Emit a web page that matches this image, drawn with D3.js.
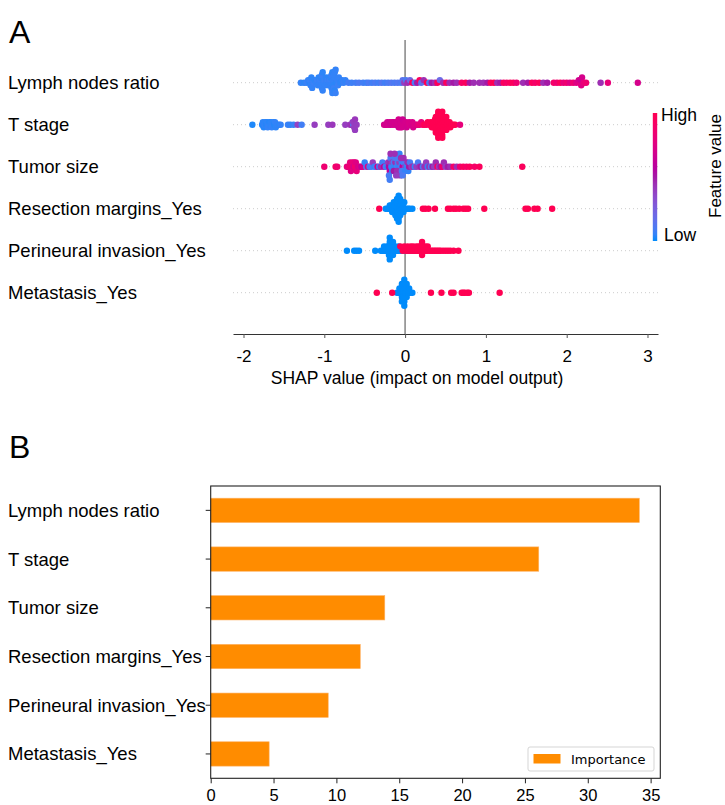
<!DOCTYPE html>
<html>
<head>
<meta charset="utf-8">
<script src="https://cdn.jsdelivr.net/npm/d3@7"></script>
<style>
  body { margin: 0; background: #fff; }
  svg { display: block; font-family: "Liberation Sans", Arial, sans-serif; }
</style>
</head>
<body>
<div id="container"></div>
<script>
// feature names, top to bottom
const features = ["Lymph nodes ratio", "T stage", "Tumor size", "Resection margins_Yes",
  "Perineural invasion_Yes", "Metastasis_Yes"];

// panel B importances
const importance = [34.1, 26.1, 13.85, 11.9, 9.35, 4.65];

const shapTicks = [-2, -1, 0, 1, 2, 3];
const importanceTicks = [0, 5, 10, 15, 20, 25, 30, 35];

// SHAP points per feature: [shap value, feature value (0 low .. 1 high)]
const lnrPts = [
  [-1.29,0.05],[-1.25,0.04],[-1.22,0.06],[-1.2,0.05],[-1.18,0.03],[-1.18,0.06],[-1.17,0.05],[-1.16,0.04],
  [-1.15,0.05],[-1.13,0.06],[-1.12,0.04],[-1.1,0.05],[-1.09,0.06],[-1.08,0.05],[-1.07,0.04],[-1.06,0.05],
  [-1.05,0.06],[-1.04,0.05],[-1.04,0.04],[-1.03,0.05],[-1.03,0.06],[-1.02,0.05],[-1.02,0.04],[-1.01,0.05],
  [-1.0,0.06],[-0.99,0.05],[-0.98,0.04],[-0.97,0.05],[-0.96,0.06],[-0.95,0.05],[-0.94,0.04],[-0.93,0.05],
  [-0.93,0.06],[-0.92,0.05],[-0.92,0.04],[-0.91,0.05],[-0.91,0.06],[-0.9,0.05],[-0.9,0.04],[-0.9,0.05],
  [-0.89,0.06],[-0.89,0.05],[-0.89,0.04],[-0.88,0.05],[-0.88,0.06],[-0.88,0.05],[-0.87,0.04],[-0.87,0.05],
  [-0.86,0.06],[-0.86,0.05],[-0.85,0.04],[-0.84,0.05],[-0.83,0.06],[-0.82,0.05],[-0.8,0.04],[-0.78,0.05],
  [-0.76,0.06],[-0.74,0.05],
  [-0.7,0.08],[-0.66,0.07],[-0.61,0.08],[-0.57,0.1],[-0.52,0.08],[-0.48,0.07],[-0.45,0.1],[-0.41,0.08],
  [-0.37,0.1],[-0.33,0.08],[-0.29,0.12],[-0.25,0.08],[-0.21,0.1],[-0.17,0.12],[-0.13,0.1],[-0.09,0.12],
  [-0.05,0.1],[-0.03,0.15],
  [-0.01,0.4],[0.01,0.1],[0.03,0.45],[0.06,0.2],[0.09,0.95],[0.12,0.1],[0.15,0.5],[0.18,0.95],[0.2,0.15],
  [0.23,0.45],[0.27,1.0],[0.3,0.1],[0.33,0.5],[0.37,0.45],[0.4,0.95],[0.43,0.2],[0.47,0.45],[0.51,0.95],
  [0.55,0.45],[0.6,0.5],[0.64,0.45],[0.7,0.9],[0.75,0.95],[0.8,0.5],[0.85,0.45],[0.92,0.45],[0.97,0.45],
  [1.02,0.5],[1.06,0.95],[1.1,1.0],[1.14,0.45],[1.18,0.5],[1.22,0.95],[1.26,0.9],[1.3,0.95],[1.34,0.95],
  [1.38,0.85],[1.46,0.45],[1.52,0.5],[1.57,0.95],[1.61,0.9],[1.66,0.95],[1.71,0.45],[1.76,0.5],[1.84,0.9],
  [1.88,0.85],[1.92,0.95],[1.96,0.8],[2.0,0.85],[2.04,0.75],[2.08,0.85],[2.12,0.75],[2.15,0.7],[2.17,0.8],
  [2.17,0.65],[2.18,0.75],[2.19,0.7],[2.21,0.8],[2.24,0.85],[2.42,0.45],[2.51,0.8],[2.88,0.7]
];

const tstagePts = [
  [-1.89,0.02],[-1.77,0.03],[-1.76,0.04],[-1.75,0.03],[-1.74,0.05],[-1.73,0.04],[-1.72,0.03],[-1.71,0.04],
  [-1.7,0.05],[-1.69,0.05],[-1.68,0.03],[-1.67,0.04],[-1.66,0.04],[-1.65,0.05],[-1.64,0.05],[-1.63,0.04],
  [-1.62,0.03],[-1.61,0.05],[-1.6,0.04],[-1.58,0.05],[-1.56,0.04],[-1.54,0.05],[-1.45,0.06],[-1.42,0.05],
  [-1.38,0.06],[-1.33,0.38],[-1.28,0.08],[-1.12,0.4],[-0.95,0.4],[-0.9,0.42],[-0.74,0.4],[-0.68,0.42],
  [-0.66,0.45],[-0.65,0.38],[-0.64,0.12],[-0.64,0.4],[-0.63,0.4],[-0.62,0.42],[-0.62,0.4],[-0.6,0.4],
  [-0.26,0.68],[-0.24,0.7],[-0.23,0.68],[-0.22,0.68],[-0.2,0.7],[-0.19,0.66],[-0.18,0.66],[-0.16,0.7],
  [-0.15,0.68],[-0.14,0.68],[-0.12,0.7],[-0.11,0.68],[-0.1,0.68],[-0.09,0.7],[-0.08,0.66],[-0.08,0.7],
  [-0.07,0.7],[-0.06,0.68],[-0.06,0.7],[-0.05,0.68],[-0.05,0.7],[-0.04,0.7],[-0.03,0.66],[-0.02,0.7],
  [-0.01,0.68],[0.0,0.7],[0.01,0.7],[0.02,0.68],[0.04,0.7],[0.05,0.72],[0.06,0.72],[0.08,0.7],
  [0.09,0.72],[0.1,0.7],[0.12,0.75],[0.14,0.72],[0.16,0.78],[0.18,0.82],[0.2,0.8],
  [0.22,0.9],[0.24,1],[0.26,0.95],[0.28,1],[0.3,1],[0.31,0.95],[0.32,1],[0.33,1],[0.34,1],[0.35,1],
  [0.35,1],[0.36,1],[0.36,1],[0.37,1],[0.37,1],[0.38,1],[0.38,1],[0.38,1],[0.39,1],[0.39,1],[0.39,1],
  [0.4,1],[0.4,1],[0.4,1],[0.4,1],[0.41,1],[0.41,1],[0.41,1],[0.41,1],[0.42,1],[0.42,1],[0.42,1],[0.42,1],
  [0.43,1],[0.43,1],[0.43,1],[0.43,1],[0.44,1],[0.44,1],[0.44,1],[0.44,1],[0.45,1],[0.45,1],[0.45,1],
  [0.45,1],[0.46,1],[0.46,1],[0.46,1],[0.47,1],[0.47,1],[0.47,1],[0.48,1],[0.48,1],[0.48,1],[0.49,1],
  [0.49,1],[0.5,1],[0.5,1],[0.51,1],[0.51,1],[0.52,1],[0.53,1],[0.54,1],[0.55,1],[0.56,1],[0.58,1],
  [0.6,1],[0.62,1],[0.68,0.8]
];

const tumorPts = [
  [-1.0,0.85],[-0.86,0.9],[-0.84,0.85],
  [-0.72,0.8],[-0.7,0.75],[-0.69,0.85],[-0.68,0.8],[-0.67,0.75],[-0.66,0.85],[-0.65,0.8],[-0.64,0.7],
  [-0.63,0.8],[-0.62,0.85],[-0.61,0.75],[-0.6,0.8],[-0.58,0.7],[-0.56,0.75],[-0.54,0.6],[-0.52,0.7],
  [-0.5,0.05],[-0.48,0.1],[-0.46,0.75],[-0.44,0.08],[-0.42,0.1],[-0.4,0.4],[-0.38,0.05],[-0.36,0.1],
  [-0.34,0.7],[-0.32,0.05],[-0.3,0.45],[-0.28,0.08],[-0.26,0.6],[-0.24,0.1],[-0.22,0.05],[-0.21,0.4],
  [-0.2,0.55],[-0.19,0.45],[-0.19,0.6],[-0.18,0.1],[-0.17,0.05],[-0.16,0.4],[-0.15,0.08],[-0.14,0.1],
  [-0.13,0.05],[-0.12,0.45],[-0.11,0.05],[-0.1,0.1],[-0.09,0.08],[-0.08,0.05],[-0.07,0.4],[-0.06,0.05],
  [-0.05,0.1],[-0.04,0.05],[-0.03,0.6],[-0.02,0.08],[-0.01,0.05],[0.0,0.4],[0.01,0.1],[0.02,0.05],
  [-0.2,0.1],[-0.18,0.45],[-0.16,0.05],[-0.14,0.5],[-0.12,0.1],[-0.1,0.45],[-0.08,0.1],[-0.06,0.4],
  [-0.04,0.1],[-0.02,0.45],[0.0,0.05],[-0.11,0.4],[-0.09,0.1],[-0.07,0.05],[-0.05,0.45],[-0.19,0.08],
  [-0.13,0.45],[-0.03,0.1],
  [0.03,0.45],[0.04,0.05],[0.05,0.5],[0.06,0.1],[0.08,0.4],[0.1,0.45],[0.12,0.05],[0.14,0.4],[0.16,0.1],
  [0.18,0.45],[0.2,0.5],[0.22,0.1],[0.24,0.45],[0.26,0.4],[0.28,0.05],[0.3,0.45],[0.32,0.1],[0.34,0.5],
  [0.36,0.4],[0.38,0.45],[0.4,0.9],[0.42,0.4],[0.44,0.5],[0.46,0.85],[0.48,0.45],[0.5,0.4],[0.53,0.5],
  [0.56,0.45],[0.6,0.9],[0.64,0.45],[0.68,0.85],[0.72,0.95],[0.76,0.9],[0.8,0.95],[0.86,0.9],[0.92,0.95],
  [1.45,0.95]
];

const marginPts = [
  [-0.24,0],[-0.22,0],[-0.2,0],[-0.19,0],[-0.18,0],[-0.17,0],[-0.16,0],[-0.15,0],[-0.15,0],[-0.14,0],
  [-0.14,0],[-0.13,0],[-0.13,0],[-0.12,0],[-0.12,0],[-0.12,0],[-0.11,0],[-0.11,0],[-0.11,0],[-0.1,0],
  [-0.1,0],[-0.1,0],[-0.1,0],[-0.09,0],[-0.09,0],[-0.09,0],[-0.09,0],[-0.09,0],[-0.08,0],[-0.08,0],
  [-0.08,0],[-0.08,0],[-0.07,0],[-0.07,0],[-0.07,0],[-0.06,0],[-0.06,0],[-0.06,0],[-0.05,0],[-0.05,0],
  [-0.04,0],[-0.04,0],[-0.03,0],[-0.03,0],[-0.02,0],[-0.01,0],[0.0,0],[0.02,0],[0.04,0],[0.06,0],[0.09,0],
  [-0.32,1],[0.22,1],[0.25,1],[0.29,1],[0.37,1],[0.53,1],[0.56,1],[0.6,1],[0.63,1],[0.67,1],[0.72,1],
  [0.75,1],[0.78,1],[0.98,1],[1.49,1],[1.52,1],[1.6,1],[1.64,1],[1.82,1]
];

const perineuralPts = [
  [-0.72,0],[-0.63,0],[-0.6,0],[-0.57,0],[-0.37,0],
  [-0.3,0],[-0.28,0],[-0.27,0],[-0.26,0],[-0.25,0],[-0.24,0],[-0.23,0],[-0.22,0],[-0.21,0],[-0.21,0],
  [-0.2,0],[-0.2,0],[-0.2,0],[-0.19,0],[-0.19,0],[-0.19,0],[-0.18,0],[-0.18,0],[-0.18,0],[-0.17,0],
  [-0.17,0],[-0.16,0],[-0.16,0],[-0.15,0],[-0.15,0],[-0.14,0],[-0.13,0],[-0.12,0],[-0.11,0],[-0.1,0],
  [-0.09,0],[-0.08,0],[-0.06,0],[-0.04,0],[-0.02,0],[0.0,0],[0.02,0],[0.05,0],[0.08,0],[0.12,0],
  [-0.06,1],[-0.03,1],[-0.01,1],[0.01,1],[0.03,1],[0.04,1],[0.06,1],[0.07,1],[0.09,1],[0.1,1],[0.11,1],
  [0.13,1],[0.14,1],[0.15,1],[0.16,1],[0.17,1],[0.18,1],[0.19,1],[0.19,1],[0.2,1],[0.2,1],[0.21,1],
  [0.21,1],[0.22,1],[0.22,1],[0.23,1],[0.24,1],[0.25,1],[0.26,1],[0.27,1],[0.28,1],[0.3,1],[0.32,1],
  [0.34,1],[0.36,1],[0.38,1],[0.4,1],[0.42,1],[0.44,1],[0.47,1],[0.5,1],[0.53,1],[0.56,1],[0.6,1],[0.66,1]
];

const metastasisPts = [
  [-0.1,0],[-0.08,0],[-0.07,0],[-0.06,0],[-0.05,0],[-0.05,0],[-0.04,0],[-0.04,0],[-0.04,0],[-0.03,0],
  [-0.03,0],[-0.03,0],[-0.03,0],[-0.02,0],[-0.02,0],[-0.02,0],[-0.02,0],[-0.01,0],[-0.01,0],[-0.01,0],
  [0.0,0],[0.0,0],[0.0,0],[0.01,0],[0.01,0],[0.02,0],[0.02,0],[0.03,0],[0.04,0],[0.05,0],[0.07,0],[0.09,0],
  [-0.35,1],[-0.16,1],[0.32,1],[0.45,1],[0.57,1],[0.6,1],[0.7,1],[0.72,1],[0.74,1],[0.77,1],[0.79,1],[1.17,1]
];

const rowPts = [lnrPts, tstagePts, tumorPts, marginPts, perineuralPts, metastasisPts];

const W = 725, H = 805;
const svg = d3.select("#container").append("svg")
  .attr("width", W)
  .attr("height", H);

// shap red-blue colormap (lch interpolation with a darker middle)
const blueC = d3.hcl("#008bfb"), redC = d3.hcl("#ff0052");
function shapColor(t) {
  const l = t < 0.5 ? blueC.l + (40 - blueC.l) * t * 2 : 40 + (redC.l - 40) * (t - 0.5) * 2;
  const c = blueC.c + (redC.c - blueC.c) * t;
  const h = blueC.h + (redC.h + 360 - blueC.h) * t;
  return d3.hcl(h, c, l).formatHex();
}

// beeswarm offsets, binned like shap's summary_plot; the fullest bin reaches +-spread
function swarm(pts, spread) {
  const vals = pts.map(d => d[0]);
  const lo = d3.min(vals), hi = d3.max(vals);
  const nbins = 100;
  const quant = vals.map(v => Math.round(nbins * (v - lo) / (hi - lo + 1e-8)));
  const inds = d3.range(vals.length).sort((a, b) => quant[a] - quant[b] || a - b);
  const ys = new Array(vals.length).fill(0);
  let layer = 0, last = -1;
  inds.forEach(i => {
    if (quant[i] !== last) layer = 0;
    ys[i] = Math.ceil(layer / 2) * ((layer % 2) * 2 - 1);
    layer++;
    last = quant[i];
  });
  const m = d3.max(ys);
  return ys.map(y => y * spread / m);
}

// ---------- panel A ----------
svg.append("text")
  .attr("x", 9).attr("y", 43)
  .style("font-size", "32px")
  .text("A");

const xA = d3.scaleLinear().domain([-2.13, 3.13]).range([233, 658]);
const yA = d3.scalePoint().domain(features).range([82.7, 292.7]);
const rowStep = yA.step();
const axisYA = 334;

// dotted guide lines
svg.append("g").selectAll("line")
  .data(features)
  .enter()
  .append("line")
  .attr("x1", 233).attr("x2", 658)
  .attr("y1", d => yA(d)).attr("y2", d => yA(d))
  .attr("stroke", "#ccc")
  .attr("stroke-width", 1)
  .attr("stroke-dasharray", "1,3");

// zero line
svg.append("line")
  .attr("x1", xA(0)).attr("x2", xA(0))
  .attr("y1", axisYA - rowStep * 7).attr("y2", axisYA)
  .attr("stroke", "#999")
  .attr("stroke-width", 1.8);

features.forEach((f, i) => {
  const pts = rowPts[i];
  const off = swarm(pts, rowStep * 0.31);
  svg.append("g")
    .selectAll("circle")
    .data(pts)
    .enter()
    .append("circle")
    .attr("cx", d => xA(d[0]))
    .attr("cy", (d, j) => yA(f) - off[j])
    .attr("r", 3.2)
    .attr("fill", d => shapColor(d[1]));
});

// feature labels
svg.append("g").selectAll("text")
  .data(features)
  .enter()
  .append("text")
  .attr("x", 8)
  .attr("y", d => yA(d) + 6.5)
  .style("font-size", "18.5px")
  .text(d => d);

const xAxisA = svg.append("g")
  .attr("transform", "translate(0," + axisYA + ")")
  .call(d3.axisBottom(xA).tickValues(shapTicks).tickSize(4).tickSizeOuter(0).tickPadding(12)
    .tickFormat(d3.format("d")));
xAxisA.select(".domain").attr("stroke", "#333");
xAxisA.selectAll(".tick line").attr("stroke", "#555");
xAxisA.selectAll("text")
  .style("font-family", "'Liberation Sans', Arial, sans-serif")
  .style("font-size", "17px")
  .attr("fill", "#000")
  .text(d => d < 0 ? "-" + Math.abs(d) : d);

svg.append("text")
  .attr("x", 417).attr("y", 384)
  .attr("text-anchor", "middle")
  .style("font-size", "17.5px")
  .text("SHAP value (impact on model output)");

// color bar
const grad = svg.append("defs").append("linearGradient")
  .attr("id", "shapgrad")
  .attr("x1", "0%").attr("y1", "100%").attr("x2", "0%").attr("y2", "0%");
grad.selectAll("stop")
  .data(d3.range(0, 1.0001, 0.05))
  .enter()
  .append("stop")
  .attr("offset", d => (d * 100) + "%")
  .attr("stop-color", d => shapColor(d));

svg.append("rect")
  .attr("x", 652.8).attr("y", 113)
  .attr("width", 4.4).attr("height", 128)
  .attr("fill", "url(#shapgrad)");

svg.append("text").attr("x", 661).attr("y", 121)
  .style("font-size", "17.5px").text("High");
svg.append("text").attr("x", 664).attr("y", 241)
  .style("font-size", "17.5px").text("Low");
svg.append("text")
  .attr("transform", "translate(721,166) rotate(-90)")
  .attr("text-anchor", "middle")
  .style("font-size", "17px")
  .text("Feature value");

// ---------- panel B ----------
svg.append("text")
  .attr("x", 9).attr("y", 458)
  .style("font-size", "32px")
  .text("B");

const frame = { left: 210.7, right: 660.3, top: 486, bottom: 778.3 };
const xB = d3.scaleLinear().domain([0, 35.77]).range([frame.left, frame.right]);
const yB = d3.scaleBand().domain(features).range([frame.top, frame.bottom])
  .paddingInner(0.5).paddingOuter(0.25);

svg.append("g").selectAll("rect")
  .data(importance)
  .enter()
  .append("rect")
  .attr("x", xB(0))
  .attr("y", (d, i) => yB(features[i]))
  .attr("width", d => xB(d) - xB(0))
  .attr("height", yB.bandwidth())
  .attr("fill", "#ff8c00")
  .attr("stroke", "#ffb366")
  .attr("stroke-width", 0.6);

svg.append("rect")
  .attr("x", frame.left).attr("y", frame.top)
  .attr("width", frame.right - frame.left).attr("height", frame.bottom - frame.top)
  .attr("fill", "none")
  .attr("stroke", "#222")
  .attr("stroke-width", 1.1);

const xAxisB = svg.append("g")
  .attr("transform", "translate(0," + frame.bottom + ")")
  .call(d3.axisBottom(xB).tickValues(importanceTicks).tickSize(5).tickSizeOuter(0).tickPadding(6));
xAxisB.select(".domain").remove();
xAxisB.selectAll(".tick line").attr("stroke", "#222");
xAxisB.selectAll("text")
  .style("font-family", "'Liberation Sans', Arial, sans-serif")
  .style("font-size", "16.5px")
  .attr("fill", "#000");

const yAxisB = svg.append("g")
  .attr("transform", "translate(" + frame.left + ",0)")
  .call(d3.axisLeft(yB).tickSize(5).tickSizeOuter(0).tickFormat(""));
yAxisB.select(".domain").remove();
yAxisB.selectAll(".tick line").attr("stroke", "#222");

svg.append("g").selectAll("text")
  .data(features)
  .enter()
  .append("text")
  .attr("x", 8)
  .attr("y", d => yB(d) + yB.bandwidth() / 2 + 6.5)
  .style("font-size", "18.5px")
  .text(d => d);

// legend
const legend = svg.append("g");
legend.append("rect")
  .attr("x", 528).attr("y", 747)
  .attr("width", 126).attr("height", 24)
  .attr("rx", 2)
  .attr("fill", "#fff").attr("fill-opacity", 0.8)
  .attr("stroke", "#d5d5d5");
legend.append("rect")
  .attr("x", 533.5).attr("y", 754)
  .attr("width", 27).attr("height", 9.5)
  .attr("fill", "#ff8c00");
legend.append("text")
  .attr("x", 571).attr("y", 764)
  .style("font-family", "'DejaVu Sans', sans-serif")
  .style("font-size", "13px")
  .text("Importance");
</script>
</body>
</html>
